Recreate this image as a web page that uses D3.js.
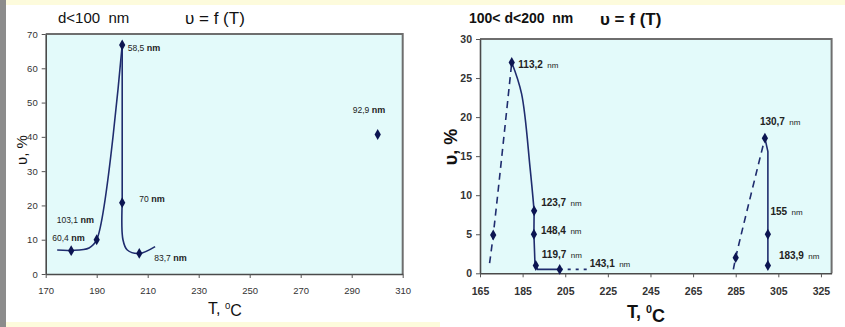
<!DOCTYPE html>
<html>
<head>
<meta charset="utf-8">
<script src="https://cdn.jsdelivr.net/npm/d3@7"></script>
<style>
  body { margin: 0; background: #fff; }
  svg { display: block; font-family: "Liberation Sans", Arial, sans-serif; }
</style>
</head>
<body>
<div id="container"></div>
<script>
// ---- d < 100 nm ----
var leftTicksX = [170, 190, 210, 230, 250, 270, 290, 310];
var leftTicksY = [0, 10, 20, 30, 40, 50, 60, 70];
var leftT = [180, 190, 200, 200, 206.7, 300.2];
var leftV = [6.8, 10, 66.8, 20.8, 6.0, 40.7];
var leftLabels = ["60,4", "103,1", "58,5", "70", "83,7", "92,9"];
// rising branch, drop, and low tail of the smoothed line
var riseLT = [174.5, 180, 187, 190, 200];
var riseLV = [7, 6.9, 7.6, 10, 66.8];
var dropLT = [200, 200];
var dropLV = [66.8, 20.8];
var tailLT = [200, 200.3, 202, 206.7, 212.9];
var tailLV = [20.8, 10, 7, 6.0, 8];

// ---- 100 < d < 200 nm ----
var rightTicksX = [165, 185, 205, 225, 245, 265, 285, 305, 325];
var rightTicksY = [0, 5, 10, 15, 20, 25, 30];
var rightT = [171.2, 179.9, 190.4, 190.3, 191.2, 202.4, 285, 298.7, 300.1, 300.1];
var rightV = [4.9, 27.0, 8.0, 5.0, 1.0, 0.5, 2.0, 17.3, 5.0, 1.0];
var rightLabels = ["", "113,2", "123,7", "148,4", "119,7", "143,1", "", "130,7", "155", "183,9"];
// dashed rising branches
var riseAT = [169.5, 171.2, 179.9];
var riseAV = [1.3, 4.9, 27.0];
var riseBT = [283.9, 285, 298.7];
var riseBV = [0.5, 2.0, 17.3];
// solid falling branches
var fallAT = [179.9, 184.5, 188.5, 190.4];
var fallAV = [27.0, 23.0, 13.5, 8.0];
var stepAT = [190.4, 190.3, 190.8, 192, 202.4];
var stepAV = [8.0, 5.0, 1.2, 0.5, 0.5];
var tailAT = [202.4, 216];
var tailAV = [0.5, 0.5];
var fallBT = [298.7, 300.1, 300.1];
var fallBV = [17.3, 15.6, 1.0];

function zip(a, b) { return a.map(function (d, i) { return [d, b[i]]; }); }

function init() {
    var svg = d3.select("#container").append("svg")
        .attr("width", 845).attr("height", 327);

    svg.append("rect").attr("width", 845).attr("height", 327).attr("fill", "#ffffff");
    svg.append("rect").attr("width", 845).attr("height", 5).attr("fill", "#fdfbdc");
    svg.append("rect").attr("x", 5).attr("y", 322).attr("width", 435).attr("height", 5).attr("fill", "#fdfbdc");
    svg.append("rect").attr("width", 6).attr("height", 327).attr("fill", "#8c8c8c");

    var lineCol = "#1f2c6e";
    var markCol = "#0c1552";

    function panel(o) {
        var x = d3.scaleLinear().domain(o.xDomain).range(o.xRange);
        var y = d3.scaleLinear().domain(o.yDomain).range(o.yRange);
        var g = svg.append("g");

        g.append("rect")
            .attr("x", o.xRange[0]).attr("y", o.yRange[1])
            .attr("width", o.xRange[1] - o.xRange[0])
            .attr("height", o.yRange[0] - o.yRange[1])
            .attr("fill", "#e3fafa");
        // top and right frame
        g.append("path")
            .attr("d", "M" + o.xRange[0] + "," + o.yRange[1] + "H" + o.xRange[1] + "V" + o.yRange[0])
            .attr("fill", "none").attr("stroke", "#6e6e6e").attr("stroke-width", 2);

        var ax = g.append("g")
            .attr("transform", "translate(0," + o.yRange[0] + ")")
            .call(d3.axisBottom(x).tickValues(o.ticksX).tickSize(4).tickSizeOuter(0).tickFormat(d3.format("d")));
        var ay = g.append("g")
            .attr("transform", "translate(" + o.xRange[0] + ",0)")
            .call(d3.axisLeft(y).tickValues(o.ticksY).tickSize(4).tickSizeOuter(0).tickFormat(d3.format("d")));
        [ax, ay].forEach(function (a) {
            a.select(".domain").attr("stroke", "#4a4a4a").attr("stroke-width", 1.6);
            a.selectAll(".tick line").attr("stroke", "#555");
            a.selectAll(".tick text")
                .attr("fill", "#333")
                .style("font-size", o.tickFont)
                .style("font-weight", o.tickWeight)
                .style("font-family", "'Liberation Sans', Arial, sans-serif");
        });
        ax.selectAll(".tick text").attr("y", o.xTickDy);
        ay.selectAll(".tick text").attr("x", -o.yTickDx);

        function path(pts, curve, dash) {
            g.append("path")
                .datum(pts)
                .attr("d", d3.line()
                    .x(function (d) { return x(d[0]); })
                    .y(function (d) { return y(d[1]); })
                    .curve(curve))
                .attr("fill", "none")
                .attr("stroke", lineCol)
                .attr("stroke-width", 1.6)
                .attr("stroke-dasharray", dash || null);
        }
        o.lines.forEach(function (l) { path(l.pts, l.curve, l.dash); });

        var pts = zip(o.T, o.V);
        g.selectAll("path.mark")
            .data(pts)
            .enter().append("path")
            .attr("class", "mark")
            .attr("transform", function (d) { return "translate(" + x(d[0]) + "," + y(d[1]) + ")"; })
            .attr("d", d3.symbol(d3.symbolDiamond, 34))
            .attr("fill", markCol);

        g.selectAll("text.lab")
            .data(pts)
            .enter().append("text")
            .attr("class", "lab")
            .attr("x", function (d, i) { return x(d[0]) + o.labOff[i][0]; })
            .attr("y", function (d, i) { return y(d[1]) + o.labOff[i][1]; })
            .attr("dy", "0.35em")
            .attr("fill", "#222")
            .each(function (d, i) {
                if (!o.labels[i]) return;
                var t = d3.select(this);
                t.append("tspan").text(o.labels[i])
                    .style("font-size", o.labFont).style("font-weight", o.labWeight);
                t.append("tspan").text(o.nmGap + "nm")
                    .style("font-size", o.nmFont).style("font-weight", o.nmWeight)
                    .attr("xml:space", "preserve");
            });
        return g;
    }

    var smooth = d3.curveCatmullRom.alpha(0.5);

    panel({
        xDomain: [170, 310], xRange: [45.7, 402.7],
        yDomain: [0, 70], yRange: [274, 34],
        ticksX: leftTicksX, ticksY: leftTicksY,
        tickFont: "9.5px", tickWeight: "normal", xTickDy: 13, yTickDx: 8,
        T: leftT, V: leftV, labels: leftLabels,
        labOff: [[-19, -15], [-40, -22], [5.5, 0], [17, -6], [15, 2], [-25, -27]],
        labFont: "8.5px", labWeight: "normal", nmFont: "9px", nmWeight: "bold", nmGap: "\u00a0",
        lines: [
            { pts: zip(riseLT, riseLV), curve: smooth },
            { pts: zip(dropLT, dropLV), curve: d3.curveLinear },
            { pts: zip(tailLT, tailLV), curve: smooth }
        ]
    });

    panel({
        xDomain: [165, 330], xRange: [480, 831.6],
        yDomain: [0, 30], yRange: [273.3, 39],
        ticksX: rightTicksX, ticksY: rightTicksY,
        tickFont: "10.5px", tickWeight: "bold", xTickDy: 14, yTickDx: 8,
        T: rightT, V: rightV, labels: rightLabels,
        labOff: [[0, 0], [6.6, 0], [7, -10], [7, -6], [6, -13], [30, -8], [0, 0], [-5, -19], [2.5, -25], [11, -12]],
        labFont: "10px", labWeight: "bold", nmFont: "8px", nmWeight: "normal", nmGap: "\u00a0\u00a0",
        lines: [
            { pts: zip(riseAT, riseAV), curve: smooth, dash: "7,5" },
            { pts: zip(riseBT, riseBV), curve: smooth, dash: "7,5" },
            { pts: zip(fallAT, fallAV), curve: smooth },
            { pts: zip(stepAT, stepAV), curve: d3.curveLinear },
            { pts: zip(tailAT, tailAV), curve: d3.curveLinear, dash: "3,5" },
            { pts: zip(fallBT, fallBV), curve: d3.curveLinear }
        ]
    });

    // titles
    function txt(x, y, s, size, weight, anchor) {
        return svg.append("text").attr("x", x).attr("y", y).attr("dy", "0.35em")
            .attr("fill", "#111").style("font-size", size).style("font-weight", weight || "normal")
            .attr("text-anchor", anchor || "start").attr("xml:space", "preserve").text(s);
    }
    txt(58, 18, "d<100  nm", "15px");
    txt(185, 18, "\u03c5 = f (T)", "17px");
    txt(469, 18, "100< d<200  nm", "14px", "bold");
    txt(600, 19, "\u03c5 = f (T)", "17px", "bold");

    // axis titles
    function tTitle(x, y, size, weight) {
        var t = svg.append("text").attr("x", x).attr("y", y).attr("dy", "0.35em")
            .attr("text-anchor", "middle").attr("fill", "#111")
            .style("font-size", size).style("font-weight", weight);
        t.append("tspan").text("T, ");
        t.append("tspan").text("0").attr("dy", "-0.45em").style("font-size", "0.6em");
        t.append("tspan").text("C").attr("dy", "0.45em");
    }
    tTitle(225, 308, "16px", "normal");
    tTitle(646, 312, "18px", "bold");

    svg.append("text").attr("transform", "translate(22,150) rotate(-90)")
        .attr("dy", "0.35em").attr("text-anchor", "middle").attr("fill", "#111")
        .style("font-size", "15px").text("\u03c5, %");
    svg.append("text").attr("transform", "translate(451,147) rotate(-90)")
        .attr("dy", "0.35em").attr("text-anchor", "middle").attr("fill", "#111")
        .style("font-size", "18px").style("font-weight", "bold").text("\u03c5, %");
}
init();
</script>
</body>
</html>
